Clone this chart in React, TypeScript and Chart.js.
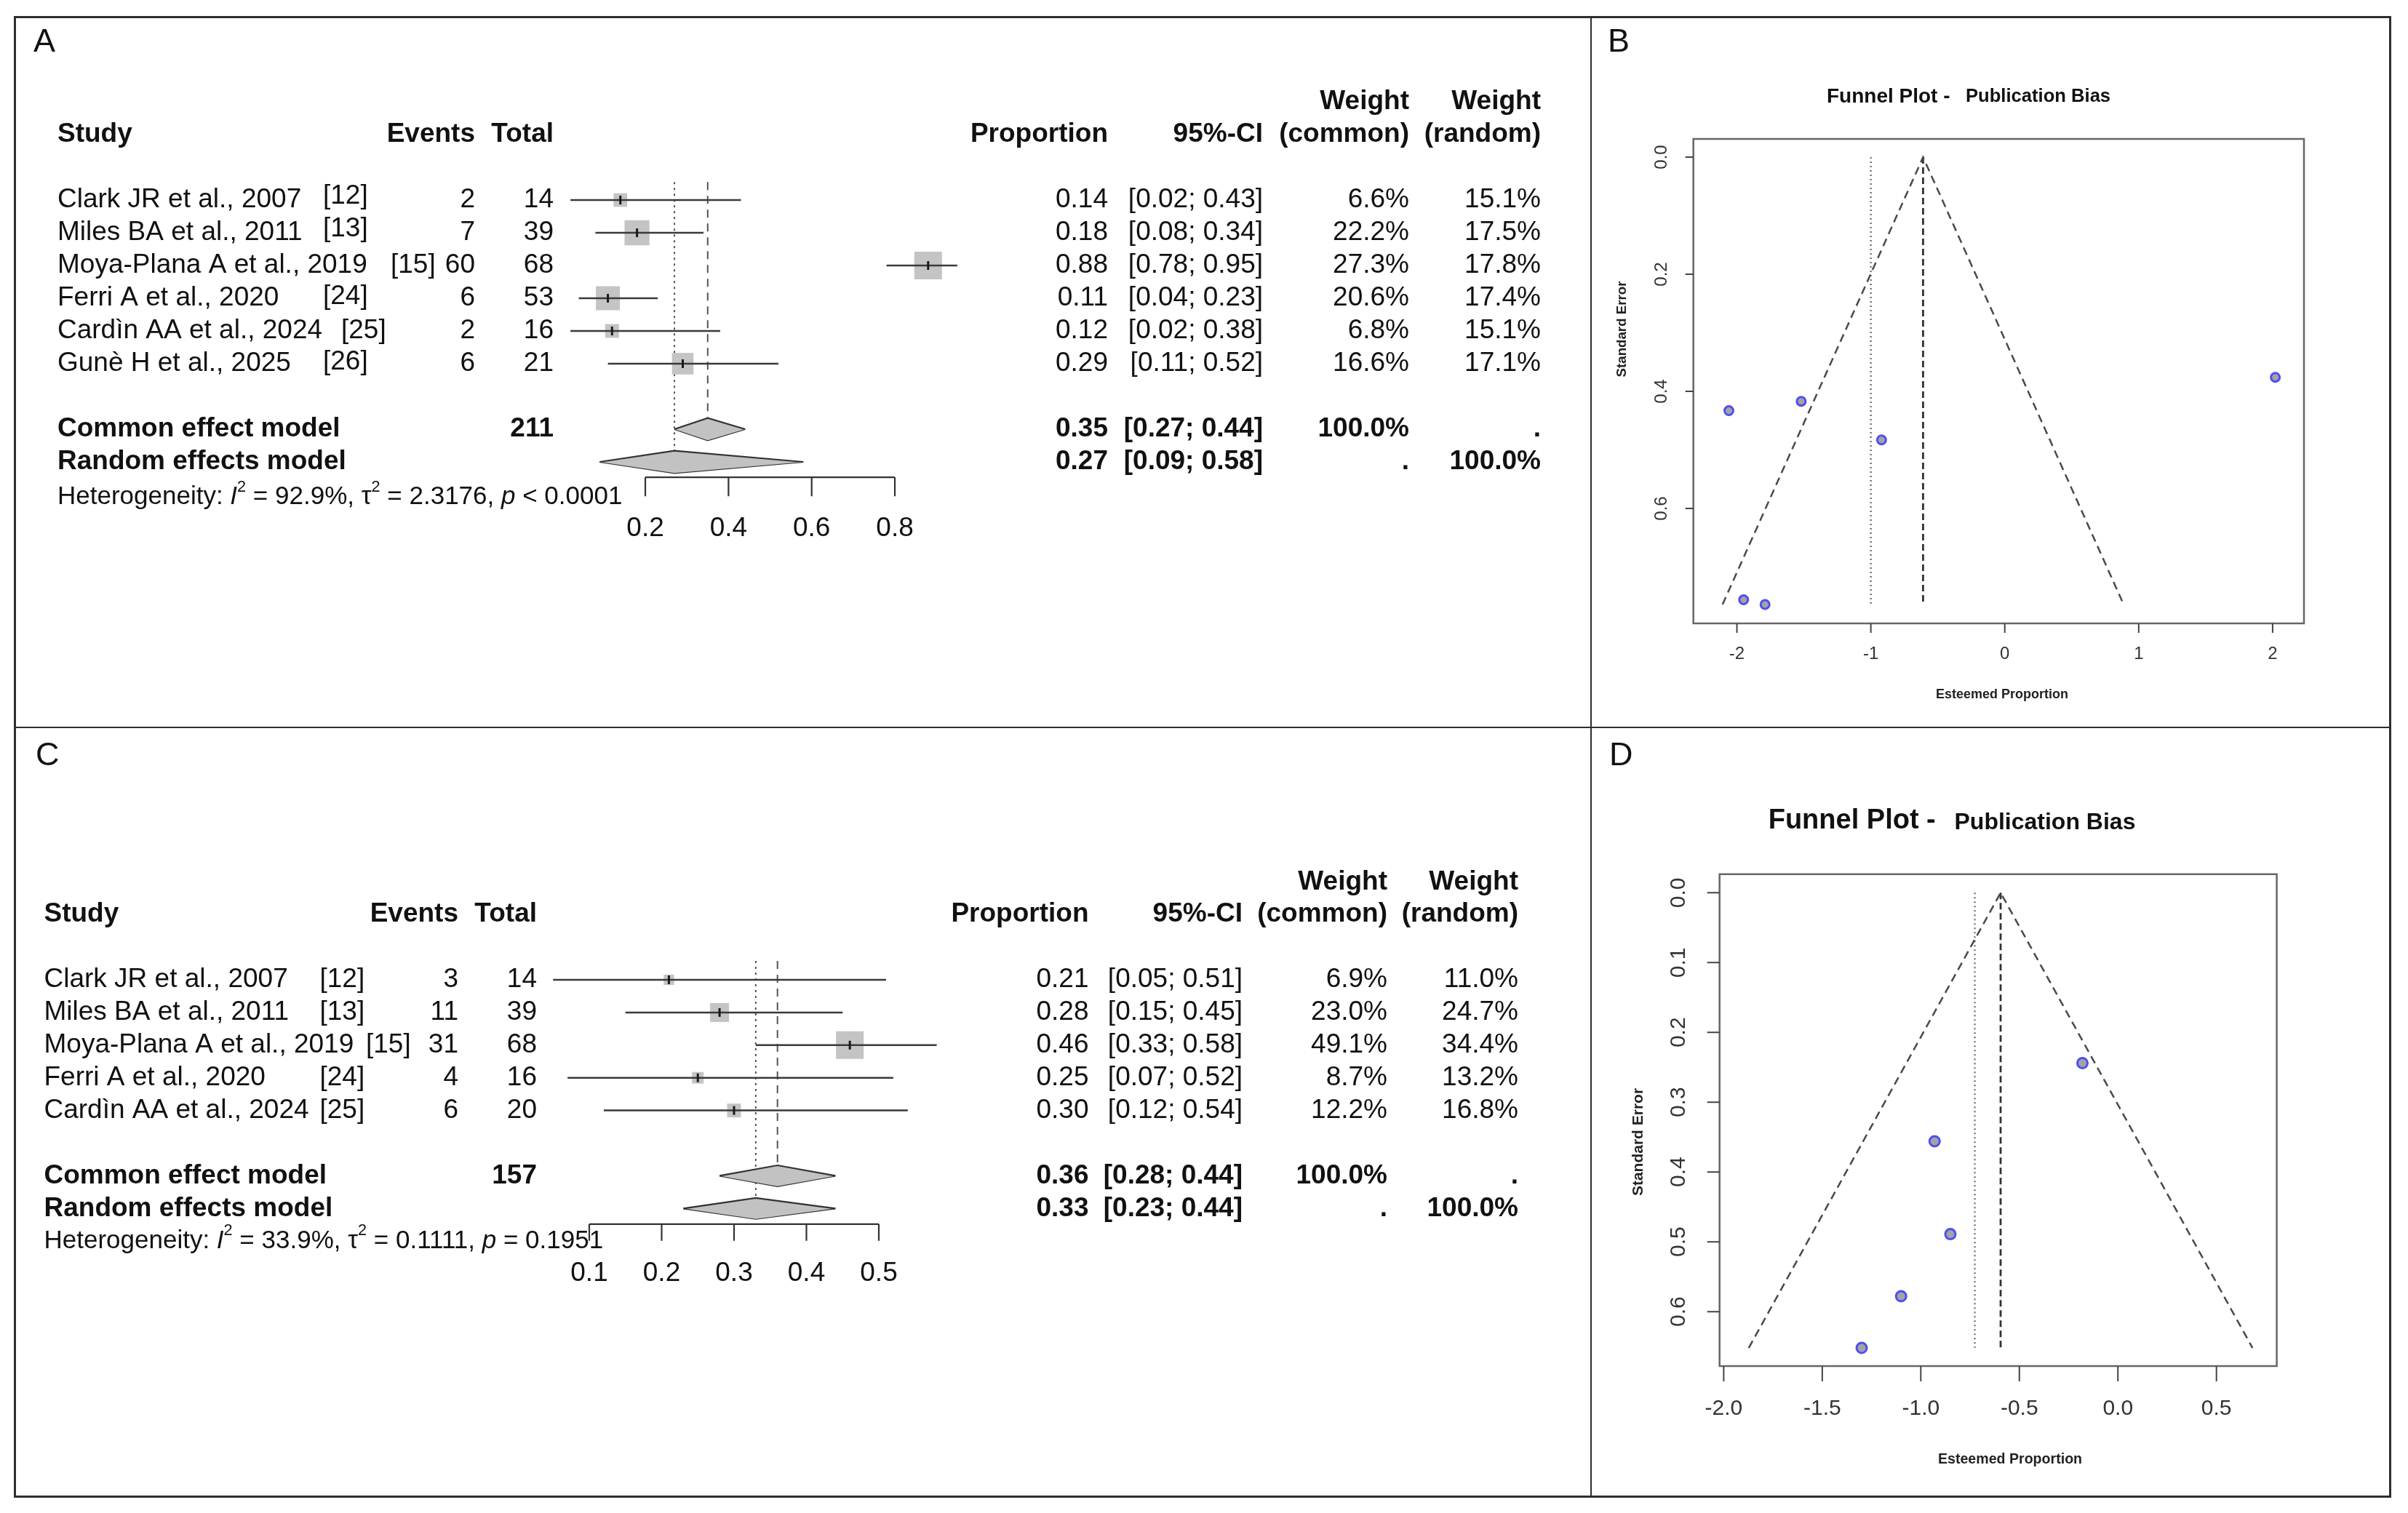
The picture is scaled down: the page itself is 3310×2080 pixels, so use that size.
import React, { useEffect, useRef } from "react";
import { Chart, registerables } from "chart.js";

Chart.register(...registerables);

const FONT = '"Liberation Sans", Arial, Helvetica, sans-serif';

// ---------------- Panel A (forest plot) ----------------
const aStudies = ["Clark JR et al., 2007", "Miles BA et al., 2011", "Moya-Plana A et al., 2019", "Ferri A et al., 2020", "Cardìn AA et al., 2024", "Gunè H et al., 2025"];
const aRefs = ["[12]", "[13]", "[15]", "[24]", "[25]", "[26]"];
const aEvents = [2, 7, 60, 6, 2, 6];
const aTotals = [14, 39, 68, 53, 16, 21];
const aProportion = [0.14, 0.18, 0.88, 0.11, 0.12, 0.29];
const aLower = [0.02, 0.08, 0.78, 0.04, 0.02, 0.11];
const aUpper = [0.43, 0.34, 0.95, 0.23, 0.38, 0.52];
const aWeightCommon = [6.6, 22.2, 27.3, 20.6, 6.8, 16.6];
const aWeightRandom = [15.1, 17.5, 17.8, 17.4, 15.1, 17.1];
const aCommon = [0.35, 0.27, 0.44];
const aRandom = [0.27, 0.09, 0.58];
const aTotalN = 211;
const aHeterogeneity = ["92.9%", "2.3176", "< 0.0001"];
const aAxisTicks = [0.2, 0.4, 0.6, 0.8];
const aAxisTickLabels = ["0.2", "0.4", "0.6", "0.8"];

// ---------------- Panel C (forest plot) ----------------
const cStudies = ["Clark JR et al., 2007", "Miles BA et al., 2011", "Moya-Plana A et al., 2019", "Ferri A et al., 2020", "Cardìn AA et al., 2024"];
const cRefs = ["[12]", "[13]", "[15]", "[24]", "[25]"];
const cEvents = [3, 11, 31, 4, 6];
const cTotals = [14, 39, 68, 16, 20];
const cProportion = [0.21, 0.28, 0.46, 0.25, 0.3];
const cLower = [0.05, 0.15, 0.33, 0.07, 0.12];
const cUpper = [0.51, 0.45, 0.58, 0.52, 0.54];
const cWeightCommon = [6.9, 23.0, 49.1, 8.7, 12.2];
const cWeightRandom = [11.0, 24.7, 34.4, 13.2, 16.8];
const cCommon = [0.36, 0.28, 0.44];
const cRandom = [0.33, 0.23, 0.44];
const cTotalN = 157;
const cHeterogeneity = ["33.9%", "0.1111", "= 0.1951"];
const cAxisTicks = [0.1, 0.2, 0.3, 0.4, 0.5];
const cAxisTickLabels = ["0.1", "0.2", "0.3", "0.4", "0.5"];

// ---------------- Panel B (funnel plot) ----------------
const bLogit = [-1.79, -1.52, 2.02, -2.06, -1.95, -0.92];
const bSE = [0.764, 0.417, 0.376, 0.433, 0.756, 0.483];
const bCommonLogit = -0.61;
const bRandomLogit = -1.0;
const bXTicks = [-2, -1, 0, 1, 2];
const bXTickLabels = ["-2", "-1", "0", "1", "2"];
const bYTicks = [0, 0.2, 0.4, 0.6];
const bYTickLabels = ["0.0", "0.2", "0.4", "0.6"];

// ---------------- Panel D (funnel plot) ----------------
const dLogit = [-1.3, -0.93, -0.18, -1.1, -0.85];
const dSE = [0.652, 0.356, 0.244, 0.578, 0.489];
const dCommonLogit = -0.595;
const dRandomLogit = -0.726;
const dXTicks = [-2.0, -1.5, -1.0, -0.5, 0.0, 0.5];
const dXTickLabels = ["-2.0", "-1.5", "-1.0", "-0.5", "0.0", "0.5"];
const dYTicks = [0, 0.1, 0.2, 0.3, 0.4, 0.5, 0.6];
const dYTickLabels = ["0.0", "0.1", "0.2", "0.3", "0.4", "0.5", "0.6"];

const funnelTitle = ["Funnel Plot -", "Publication Bias"];
const funnelXTitle = "Esteemed Proportion";
const funnelYTitle = "Standard Error";

// ---------------- layout (positions / sizes only) ----------------
const layoutA = {
  left: 20, top: 24, width: 2167, height: 976,
  xMin: 0, xMax: 1, yMin: -0.6, yMax: 8.5,
  pad: { left: 752.7, right: 842.6, top: 224, bottom: 342.5 },
  headRow: -2, head1Row: -3, commonRow: 7, randomRow: 8, refTop: -0.55,
  axisRow: 8.47, hetRow: 9.08, tickLabelRow: 10.04,
  dH: 0.34, boxMax: 38, tickLen: 26,
  colStudy: 59, colEvents: 633, colTotal: 741, colProp: 1503, colCI: 1716, colWc: 1917, colWr: 2098,
  refX: [424, 424, 517, 424, 449, 424], refDy: [-5, -5, 0, -2, 0, -2],
  letter: "A", letterX: 26, letterY: 47, font: 37, hetFont: 35,
};
const layoutC = {
  left: 20, top: 1000, width: 2167, height: 1057,
  xMin: 0, xMax: 0.6, yMin: -0.7, yMax: 7.6,
  pad: { left: 690.5, right: 879.5, top: 315.57, bottom: 368.76 },
  headRow: -2, head1Row: -3, commonRow: 6, randomRow: 7, refTop: -0.58,
  axisRow: 7.48, hetRow: 8.0, tickLabelRow: 9.0,
  dH: 0.32, boxMax: 38, tickLen: 23,
  colStudy: 40.5, colEvents: 610, colTotal: 718, colProp: 1476.5, colCI: 1688, colWc: 1887, colWr: 2067,
  refX: [419.5, 419.5, 483, 419.5, 419.5], refDy: [0, 0, 0, 0, 0],
  letter: "C", letterX: 29, letterY: 52, font: 37, hetFont: 35,
};
const layoutB = {
  left: 2187, top: 24, width: 1099, height: 976,
  xMin: -2.325, xMax: 2.234, yMin: -0.0311, yMax: 0.7963,
  pad: { left: 140.7, right: 119, top: 167, bottom: 143 },
  letter: "B", letterX: 23, letterY: 47,
  title1X: 324, title2X: 515, titleY: 109, title1Size: 28, title2Size: 25.6, title2Dy: 0,
  xTickLen: 13, yTickLen: 11, xLabelDy: 42, yLabelDx: 43, tickFont: 24,
  xTitleX: 565, xTitleY: 931.5, xTitleSize: 18,
  yTitleX: 43, yTitleY: 428.5, yTitleSize: 18.7,
  pointR: 6, pointBW: 3,
};
const layoutD = {
  left: 2187, top: 1000, width: 1099, height: 1057,
  xMin: -2.021, xMax: 0.806, yMin: -0.0266, yMax: 0.678,
  pad: { left: 176.7, right: 156.4, top: 201.8, bottom: 179 },
  letter: "D", letterX: 25, letterY: 52,
  title1X: 243.7, title2X: 499.5, titleY: 129, title1Size: 38, title2Size: 32, title2Dy: 2,
  xTickLen: 21, yTickLen: 17, xLabelDy: 58.6, yLabelDx: 55.7, tickFont: 30,
  xTitleX: 576, xTitleY: 1007, xTitleSize: 19.6,
  yTitleX: 65, yTitleY: 570, yTitleSize: 21,
  pointR: 7, pointBW: 3,
};

// ---------------- helpers ----------------
function txt(ctx: any, s: string, x: number, y: number, size: number, weight = "normal", align = "left", baseline = "middle", color = "#111") {
  ctx.save();
  ctx.font = `${weight} ${size}px ${FONT}`;
  ctx.fillStyle = color;
  ctx.textAlign = align;
  ctx.textBaseline = baseline;
  ctx.fillText(s, x, y);
  ctx.restore();
}

function richText(ctx: any, segs: any[], x: number, y: number, size: number) {
  let cx = x;
  ctx.save();
  ctx.fillStyle = "#111";
  ctx.textAlign = "left";
  ctx.textBaseline = "middle";
  for (const s of segs) {
    const sz = s.sup ? size * 0.62 : size;
    ctx.font = `${s.it ? "italic " : ""}normal ${sz}px ${FONT}`;
    ctx.fillText(s.t, cx, s.sup ? y - size * 0.4 : y);
    cx += ctx.measureText(s.t).width;
  }
  ctx.restore();
}

const pct = (v: number) => v.toFixed(1) + "%";
const ci = (lo: number, hi: number) => `[${lo.toFixed(2)}; ${hi.toFixed(2)}]`;

function forestConfig(d: any, L: any) {
  const n = d.studies.length;
  const idx = Array.from({ length: n }, (_, i) => i);
  const wMax = Math.max(...d.wCommon);
  const datasets: any[] = [];
  const lineBase = { type: "line", pointRadius: 0, pointHoverRadius: 0, clip: false, fill: false };

  // reference lines (random = dotted, common = dashed)
  datasets.push({ ...lineBase, data: [{ x: d.random[0], y: L.refTop }, { x: d.random[0], y: L.randomRow - L.dH }], borderColor: "#555", borderWidth: 2, borderDash: [3, 5], order: 6 });
  datasets.push({ ...lineBase, data: [{ x: d.common[0], y: L.refTop }, { x: d.common[0], y: L.commonRow - L.dH }], borderColor: "#555", borderWidth: 2, borderDash: [11, 8], order: 6 });

  // study squares
  datasets.push({
    type: "scatter", clip: false, order: 4,
    data: idx.map((i) => ({ x: d.prop[i], y: i })),
    pointStyle: "rect",
    pointRadius: d.wCommon.map((w: number) => (L.boxMax * Math.sqrt(w / wMax)) / Math.SQRT2),
    pointBackgroundColor: "#c4c4c4", pointBorderWidth: 0, pointBorderColor: "#c4c4c4",
  });
  // confidence intervals
  idx.forEach((i) => {
    datasets.push({ ...lineBase, data: [{ x: d.lower[i], y: i }, { x: d.upper[i], y: i }], borderColor: "#3a3a3a", borderWidth: 2.5, order: 2 });
  });
  // estimate ticks
  datasets.push({
    type: "scatter", clip: false, order: 1,
    data: idx.map((i) => ({ x: d.prop[i], y: i })),
    pointStyle: "line", pointRotation: 90, pointRadius: 6,
    pointBorderColor: "#1a1a1a", pointBorderWidth: 3,
  });
  // diamonds: upper half filled down to lower half
  const diamond = (m: number[], row: number) => {
    datasets.push({ ...lineBase, data: [{ x: m[1], y: row }, { x: m[0], y: row - L.dH }, { x: m[2], y: row }], fill: "+1", backgroundColor: "#c2c2c2", borderColor: "#333", borderWidth: 2.2, order: 3 });
    datasets.push({ ...lineBase, data: [{ x: m[1], y: row }, { x: m[0], y: row + L.dH }, { x: m[2], y: row }], borderColor: "#333", borderWidth: 2.2, order: 3 });
  };
  diamond(d.common, L.commonRow);
  diamond(d.random, L.randomRow);

  const plugin = {
    id: "forestText",
    afterDraw(chart: any) {
      const ctx = chart.ctx;
      const X = (v: number) => chart.scales.x.getPixelForValue(v);
      const Y = (r: number) => chart.scales.y.getPixelForValue(r);
      const f = L.font;
      txt(ctx, L.letter, L.letterX, L.letterY, 45, "normal", "left", "alphabetic");
      // header
      const hy = Y(L.headRow), h1 = Y(L.head1Row);
      txt(ctx, "Study", L.colStudy, hy, f, "bold");
      txt(ctx, "Events", L.colEvents, hy, f, "bold", "right");
      txt(ctx, "Total", L.colTotal, hy, f, "bold", "right");
      txt(ctx, "Proportion", L.colProp, hy, f, "bold", "right");
      txt(ctx, "95%-CI", L.colCI, hy, f, "bold", "right");
      txt(ctx, "Weight", L.colWc, h1, f, "bold", "right");
      txt(ctx, "(common)", L.colWc, hy, f, "bold", "right");
      txt(ctx, "Weight", L.colWr, h1, f, "bold", "right");
      txt(ctx, "(random)", L.colWr, hy, f, "bold", "right");
      // study rows
      idx.forEach((i) => {
        const y = Y(i);
        txt(ctx, d.studies[i], L.colStudy, y, f);
        txt(ctx, d.refs[i], L.refX[i], y + L.refDy[i], f);
        txt(ctx, String(d.events[i]), L.colEvents, y, f, "normal", "right");
        txt(ctx, String(d.totals[i]), L.colTotal, y, f, "normal", "right");
        txt(ctx, d.prop[i].toFixed(2), L.colProp, y, f, "normal", "right");
        txt(ctx, ci(d.lower[i], d.upper[i]), L.colCI, y, f, "normal", "right");
        txt(ctx, pct(d.wCommon[i]), L.colWc, y, f, "normal", "right");
        txt(ctx, pct(d.wRandom[i]), L.colWr, y, f, "normal", "right");
      });
      // pooled rows
      const yc = Y(L.commonRow), yr = Y(L.randomRow);
      txt(ctx, "Common effect model", L.colStudy, yc, f, "bold");
      txt(ctx, String(d.totalN), L.colTotal, yc, f, "bold", "right");
      txt(ctx, d.common[0].toFixed(2), L.colProp, yc, f, "bold", "right");
      txt(ctx, ci(d.common[1], d.common[2]), L.colCI, yc, f, "bold", "right");
      txt(ctx, "100.0%", L.colWc, yc, f, "bold", "right");
      txt(ctx, ".", L.colWr, yc, f, "bold", "right");
      txt(ctx, "Random effects model", L.colStudy, yr, f, "bold");
      txt(ctx, d.random[0].toFixed(2), L.colProp, yr, f, "bold", "right");
      txt(ctx, ci(d.random[1], d.random[2]), L.colCI, yr, f, "bold", "right");
      txt(ctx, ".", L.colWc, yr, f, "bold", "right");
      txt(ctx, "100.0%", L.colWr, yr, f, "bold", "right");
      // heterogeneity
      richText(ctx, [
        { t: "Heterogeneity: " }, { t: "I", it: true }, { t: "2", sup: true },
        { t: " = " + d.het[0] + ", " }, { t: "τ" }, { t: "2", sup: true },
        { t: " = " + d.het[1] + ", " }, { t: "p", it: true }, { t: " " + d.het[2] },
      ], L.colStudy, Y(L.hetRow), L.hetFont);
      // axis
      const ya = Y(L.axisRow);
      ctx.save();
      ctx.strokeStyle = "#333";
      ctx.lineWidth = 2.2;
      ctx.beginPath();
      ctx.moveTo(X(d.ticks[0]), ya);
      ctx.lineTo(X(d.ticks[d.ticks.length - 1]), ya);
      d.ticks.forEach((t: number) => { ctx.moveTo(X(t), ya); ctx.lineTo(X(t), ya + L.tickLen); });
      ctx.stroke();
      ctx.restore();
      d.ticks.forEach((t: number, k: number) => txt(ctx, d.tickLabels[k], X(t), Y(L.tickLabelRow), f, "normal", "center"));
    },
  };

  return {
    type: "scatter",
    data: { datasets },
    options: {
      responsive: false, animation: false, events: [],
      layout: { padding: L.pad },
      plugins: { legend: { display: false }, tooltip: { enabled: false }, title: { display: false } },
      scales: {
        x: { type: "linear", min: L.xMin, max: L.xMax, display: false },
        y: { type: "linear", min: L.yMin, max: L.yMax, reverse: true, display: false },
      },
    },
    plugins: [plugin],
  };
}

function funnelConfig(fd: any, L: any) {
  const seMax = Math.max(...fd.se);
  const half = 1.96 * seMax;
  const lineBase = { type: "line", pointRadius: 0, pointHoverRadius: 0, clip: false, fill: false };
  const datasets: any[] = [
    {
      type: "scatter", clip: false, order: 0,
      data: fd.logit.map((x: number, i: number) => ({ x, y: fd.se[i] })),
      pointStyle: "circle", pointRadius: L.pointR, pointBorderWidth: L.pointBW,
      pointBorderColor: "#4f4ff2", pointBackgroundColor: "#a3a3a3",
    },
    { ...lineBase, order: 2, data: [{ x: fd.common - half, y: seMax }, { x: fd.common, y: 0 }, { x: fd.common + half, y: seMax }], borderColor: "#4a4a4a", borderWidth: 2.5, borderDash: [11, 7] },
    { ...lineBase, order: 2, data: [{ x: fd.common, y: 0 }, { x: fd.common, y: seMax }], borderColor: "#333", borderWidth: 2.8, borderDash: [9, 5] },
    { ...lineBase, order: 2, data: [{ x: fd.random, y: 0 }, { x: fd.random, y: seMax }], borderColor: "#666", borderWidth: 2.2, borderDash: [2, 4] },
  ];

  const plugin = {
    id: "funnelAxes",
    afterDraw(chart: any) {
      const ctx = chart.ctx;
      const a = chart.chartArea;
      const X = (v: number) => chart.scales.x.getPixelForValue(v);
      const Y = (v: number) => chart.scales.y.getPixelForValue(v);
      txt(ctx, L.letter, L.letterX, L.letterY, 45, "normal", "left", "alphabetic");
      txt(ctx, fd.title[0], L.title1X, L.titleY, L.title1Size, "bold", "left", "middle", "#111");
      txt(ctx, fd.title[1], L.title2X, L.titleY + L.title2Dy, L.title2Size, "bold", "left", "middle", "#111");
      ctx.save();
      ctx.strokeStyle = "#666";
      ctx.lineWidth = 2.5;
      ctx.strokeRect(a.left, a.top, a.right - a.left, a.bottom - a.top);
      ctx.strokeStyle = "#444";
      ctx.lineWidth = 2;
      ctx.beginPath();
      fd.xTicks.forEach((t: number) => { ctx.moveTo(X(t), a.bottom); ctx.lineTo(X(t), a.bottom + L.xTickLen); });
      fd.yTicks.forEach((t: number) => { ctx.moveTo(a.left, Y(t)); ctx.lineTo(a.left - L.yTickLen, Y(t)); });
      ctx.stroke();
      ctx.restore();
      fd.xTicks.forEach((t: number, k: number) => txt(ctx, fd.xTickLabels[k], X(t), a.bottom + L.xLabelDy, L.tickFont, "normal", "center", "middle", "#333"));
      fd.yTicks.forEach((t: number, k: number) => {
        ctx.save();
        ctx.translate(a.left - L.yLabelDx, Y(t));
        ctx.rotate(-Math.PI / 2);
        txt(ctx, fd.yTickLabels[k], 0, 0, L.tickFont, "normal", "center", "middle", "#333");
        ctx.restore();
      });
      txt(ctx, fd.xTitle, L.xTitleX, L.xTitleY, L.xTitleSize, "bold", "center", "middle", "#222");
      ctx.save();
      ctx.translate(L.yTitleX, L.yTitleY);
      ctx.rotate(-Math.PI / 2);
      txt(ctx, fd.yTitle, 0, 0, L.yTitleSize, "bold", "center", "middle", "#222");
      ctx.restore();
    },
  };

  return {
    type: "scatter",
    data: { datasets },
    options: {
      responsive: false, animation: false, events: [],
      layout: { padding: L.pad },
      plugins: { legend: { display: false }, tooltip: { enabled: false }, title: { display: false } },
      scales: {
        x: { type: "linear", min: L.xMin, max: L.xMax, display: false },
        y: { type: "linear", min: L.yMin, max: L.yMax, reverse: true, display: false },
      },
    },
    plugins: [plugin],
  };
}

function ChartCanvas({ make, L }: { make: () => any; L: any }) {
  const ref = useRef<HTMLCanvasElement>(null);
  useEffect(() => {
    const chart = new Chart(ref.current as HTMLCanvasElement, make());
    return () => chart.destroy();
  }, []);
  return (
    <canvas
      ref={ref}
      width={L.width}
      height={L.height}
      style={{ position: "absolute", left: L.left, top: L.top, width: L.width, height: L.height }}
    />
  );
}

const forestA = {
  studies: aStudies, refs: aRefs, events: aEvents, totals: aTotals, prop: aProportion,
  lower: aLower, upper: aUpper, wCommon: aWeightCommon, wRandom: aWeightRandom,
  common: aCommon, random: aRandom, totalN: aTotalN, het: aHeterogeneity,
  ticks: aAxisTicks, tickLabels: aAxisTickLabels,
};
const forestC = {
  studies: cStudies, refs: cRefs, events: cEvents, totals: cTotals, prop: cProportion,
  lower: cLower, upper: cUpper, wCommon: cWeightCommon, wRandom: cWeightRandom,
  common: cCommon, random: cRandom, totalN: cTotalN, het: cHeterogeneity,
  ticks: cAxisTicks, tickLabels: cAxisTickLabels,
};
const funnelB = {
  logit: bLogit, se: bSE, common: bCommonLogit, random: bRandomLogit,
  xTicks: bXTicks, xTickLabels: bXTickLabels, yTicks: bYTicks, yTickLabels: bYTickLabels,
  title: funnelTitle, xTitle: funnelXTitle, yTitle: funnelYTitle,
};
const funnelD = {
  logit: dLogit, se: dSE, common: dCommonLogit, random: dRandomLogit,
  xTicks: dXTicks, xTickLabels: dXTickLabels, yTicks: dYTicks, yTickLabels: dYTickLabels,
  title: funnelTitle, xTitle: funnelXTitle, yTitle: funnelYTitle,
};

export default function App() {
  const line = "#2e2e2e";
  return (
    <div style={{ position: "absolute", left: 0, top: 0, width: 3310, height: 2080, background: "#fff", overflow: "hidden" }}>
      <ChartCanvas L={layoutA} make={() => forestConfig(forestA, layoutA)} />
      <ChartCanvas L={layoutB} make={() => funnelConfig(funnelB, layoutB)} />
      <ChartCanvas L={layoutC} make={() => forestConfig(forestC, layoutC)} />
      <ChartCanvas L={layoutD} make={() => funnelConfig(funnelD, layoutD)} />
      <div style={{ position: "absolute", left: 19, top: 22, width: 3268, height: 2037, border: `3px solid ${line}`, boxSizing: "border-box", pointerEvents: "none" }} />
      <div style={{ position: "absolute", left: 2186, top: 22, width: 2, height: 2037, background: line, pointerEvents: "none" }} />
      <div style={{ position: "absolute", left: 19, top: 999, width: 3268, height: 2, background: line, pointerEvents: "none" }} />
    </div>
  );
}
